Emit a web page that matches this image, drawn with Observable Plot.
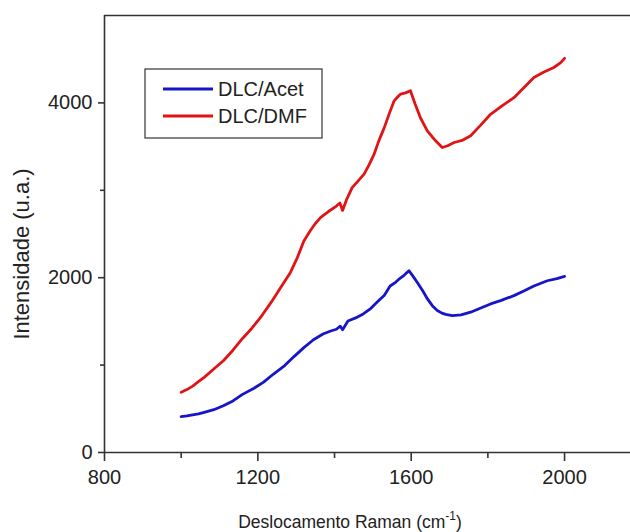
<!DOCTYPE html>
<html>
<head>
<meta charset="utf-8">
<script src="https://cdn.jsdelivr.net/npm/d3@7"></script>
<script src="https://cdn.jsdelivr.net/npm/@observablehq/plot@0.6"></script>
<style>
  html, body { margin: 0; padding: 0; background: #fff; overflow: hidden; }
  svg { display: block; font-family: "Liberation Sans", Arial, sans-serif; }
</style>
</head>
<body>
<div id="chart"></div>
<script>
// Series names
const seriesNames = ["DLC/Acet", "DLC/DMF"];
const seriesColors = ["#1616c8", "#e01414"];

// DLC/Acet (blue)
const acetX = [1000,1015,1030,1045,1060,1085,1110,1135,1160,1190,1215,1240,1270,1295,1320,1345,1370,1390,1405,1415,1421,1435,1455,1475,1495,1510,1530,1545,1560,1570,1582,1594,1605,1616,1630,1642,1655,1668,1680,1690,1707,1730,1755,1780,1807,1835,1868,1895,1920,1940,1955,1980,2000];
const acetY = [410,418,430,442,460,490,535,590,665,735,805,895,995,1100,1200,1290,1355,1390,1410,1445,1405,1505,1540,1585,1650,1715,1800,1905,1950,1990,2030,2080,2015,1945,1850,1760,1680,1625,1595,1580,1565,1575,1605,1650,1700,1740,1795,1850,1905,1940,1965,1990,2015];

// DLC/DMF (red)
const dmfX = [1000,1015,1030,1045,1060,1085,1110,1135,1160,1185,1207,1235,1260,1285,1303,1320,1337,1350,1364,1385,1405,1414,1421,1432,1446,1460,1477,1490,1503,1515,1530,1543,1555,1565,1572,1585,1598,1610,1624,1642,1655,1665,1681,1695,1712,1735,1755,1780,1807,1835,1868,1895,1920,1945,1972,1990,2000];
const dmfY = [690,720,760,810,860,955,1050,1170,1305,1425,1545,1720,1890,2060,2230,2420,2540,2620,2690,2760,2820,2855,2770,2900,3030,3100,3185,3290,3410,3560,3720,3880,4020,4070,4100,4115,4140,3990,3830,3680,3610,3560,3490,3510,3547,3575,3625,3740,3870,3960,4060,4180,4290,4350,4405,4460,4510];

// Axis ticks
const xMajor = [800, 1200, 1600, 2000];
const xMinor = [1000, 1400, 1800];
const yMajor = [0, 2000, 4000];
const yMinor = [1000, 3000];

const data = [
  ...acetX.map((x, i) => ({x, y: acetY[i], s: seriesNames[0]})),
  ...dmfX.map((x, i) => ({x, y: dmfY[i], s: seriesNames[1]}))
];

const axisColor = "#333";
const plot = Plot.plot({
  width: 630,
  height: 532,
  marginLeft: 104,
  marginRight: 0,
  marginTop: 15,
  marginBottom: 80,
  x: {domain: [800, 2172]},
  y: {domain: [0, 5000]},
  color: {domain: seriesNames, range: seriesColors},
  style: {fontFamily: "Liberation Sans, Arial, sans-serif", color: "#222", background: "#fff"},
  marks: [
    Plot.line(data, {x: "x", y: "y", z: "s", stroke: "s", strokeWidth: 2.8, curve: "linear"}),
    Plot.ruleY([5000], {stroke: axisColor, strokeWidth: 1.6}),
    Plot.ruleY([0], {stroke: axisColor, strokeWidth: 1.6}),
    Plot.ruleX([800], {stroke: axisColor, strokeWidth: 1.6}),
    Plot.axisX(xMajor, {tickSize: 9, tickPadding: 8, fontSize: 20, label: null, stroke: axisColor, strokeWidth: 1.6, tickFormat: d => String(d)}),
    Plot.axisX(xMinor, {tickSize: 6, tickFormat: () => "", label: null, stroke: axisColor, strokeWidth: 1.6}),
    Plot.axisY(yMajor, {tickSize: 6, tickPadding: 6, fontSize: 20, label: null, stroke: axisColor, strokeWidth: 1.6, tickFormat: d => String(d)}),
    Plot.axisY(yMinor, {tickSize: 4, tickFormat: () => "", label: null, stroke: axisColor, strokeWidth: 1.6})
  ]
});

document.getElementById("chart").append(plot);

const svg = d3.select(plot);

// X axis label
const xl = svg.append("text")
  .attr("x", 350).attr("y", 528)
  .attr("text-anchor", "middle")
  .attr("font-size", 17.5)
  .attr("fill", "#222");
xl.append("tspan").text("Deslocamento Raman (cm");
xl.append("tspan").attr("dy", -8).attr("font-size", 12).text("-1");
xl.append("tspan").attr("dy", 8).text(")");

// Y axis label
svg.append("text")
  .attr("transform", "translate(29,254) rotate(-90)")
  .attr("text-anchor", "middle")
  .attr("font-size", 22)
  .attr("fill", "#222")
  .text("Intensidade (u.a.)");

// Legend
const lg = svg.append("g");
lg.append("rect")
  .attr("x", 145).attr("y", 69).attr("width", 177).attr("height", 69)
  .attr("fill", "#fff").attr("stroke", axisColor).attr("stroke-width", 1.2);
seriesNames.forEach((name, i) => {
  const yy = 89 + i * 27;
  lg.append("line")
    .attr("x1", 163).attr("x2", 213).attr("y1", yy).attr("y2", yy)
    .attr("stroke", seriesColors[i]).attr("stroke-width", 2.8);
  lg.append("text")
    .attr("x", 218).attr("y", yy).attr("dy", "0.36em")
    .attr("text-anchor", "start")
    .attr("font-size", 20).attr("fill", "#222")
    .text(name);
});
</script>
</body>
</html>
